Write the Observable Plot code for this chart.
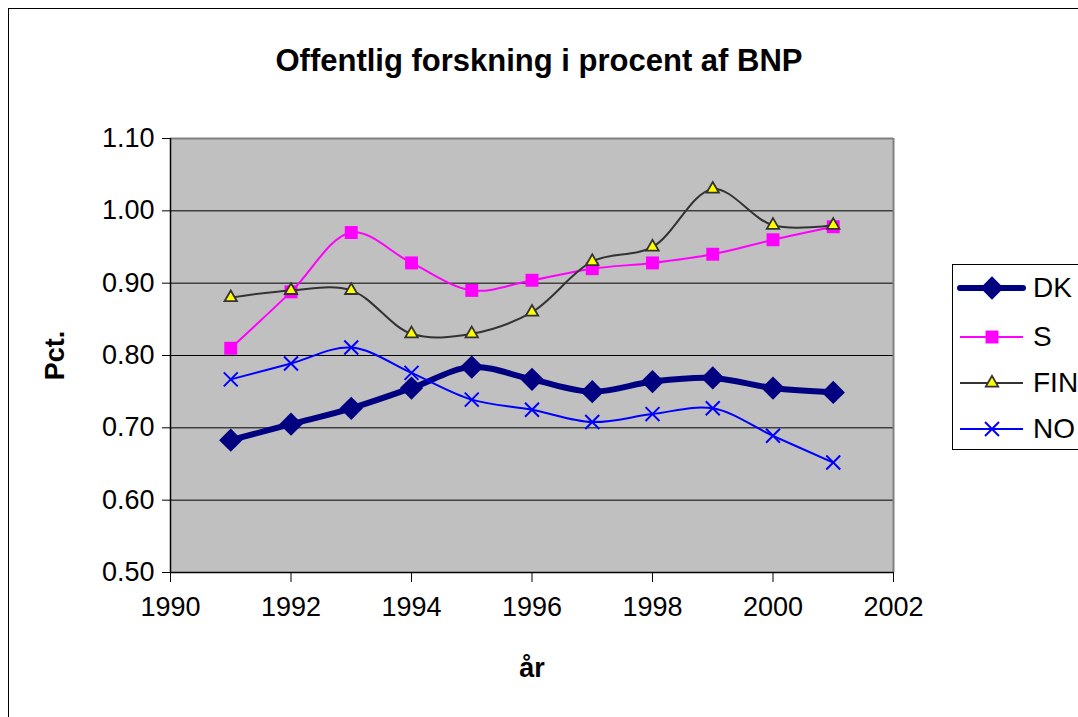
<!DOCTYPE html>
<html>
<head>
<meta charset="utf-8">
<script src="https://cdn.jsdelivr.net/npm/d3@7"></script>
<script src="https://cdn.jsdelivr.net/npm/@observablehq/plot@0.6"></script>
<style>
  html, body { margin: 0; padding: 0; background: #fff; overflow: hidden; }
  #wrap { position: relative; width: 1078px; height: 717px; overflow: hidden; font-family: "Liberation Sans", Arial, sans-serif; }
  #border { position: absolute; left: 8px; top: 8px; width: 1200px; height: 1000px; border: 1.5px solid #000; box-sizing: border-box; }
  #title { position: absolute; left: 0; width: 1078px; top: 43px; text-align: center; font-weight: bold; font-size: 31px; line-height: 36px; }
  #chart { position: absolute; left: 0; top: 0; }
  #legend { position: absolute; left: 952px; top: 264px; width: 160px; height: 186px; border: 1.5px solid #000; box-sizing: border-box; background: #fff; }
  .item { position: absolute; left: 0; height: 40px; display: flex; align-items: center; }
  .item span { font-size: 28px; margin-left: 6px; }
</style>
</head>
<body>
<div id="wrap">
  <div id="border"></div>
  <div id="chart"></div>
  <div id="title">Offentlig forskning i procent af BNP</div>
  <div id="legend"></div>
</div>
<script>
const years = [1991, 1992, 1993, 1994, 1995, 1996, 1997, 1998, 1999, 2000, 2001];
const dk  = [0.683, 0.705, 0.727, 0.755, 0.784, 0.767, 0.750, 0.764, 0.769, 0.755, 0.749];
const s   = [0.810, 0.888, 0.970, 0.928, 0.890, 0.904, 0.920, 0.928, 0.940, 0.960, 0.978];
const fin = [0.880, 0.890, 0.890, 0.830, 0.830, 0.860, 0.930, 0.950, 1.030, 0.980, 0.980];
const no  = [0.767, 0.789, 0.811, 0.776, 0.739, 0.725, 0.708, 0.719, 0.727, 0.689, 0.652];
const seriesNames = ["DK", "S", "FIN", "NO"];
const yTicks = [0.5, 0.6, 0.7, 0.8, 0.9, 1.0, 1.1];
const xTicks = [1990, 1992, 1994, 1996, 1998, 2000, 2002];

const seriesValues = {DK: dk, S: s, FIN: fin, NO: no};
const rows = n => years.map((yr, i) => ({year: yr, value: seriesValues[n][i]}));

const style = {
  DK:  {stroke: "#000080", strokeWidth: 6,  symbol: "diamond2", r: 10.5, fill: "#000080", mstroke: "none", msw: 0},
  S:   {stroke: "#ff00ff", strokeWidth: 2,  symbol: "square",   r: 7.3,  fill: "#ff00ff", mstroke: "none", msw: 0},
  FIN: {stroke: "#333333", strokeWidth: 2,  symbol: "triangle", r: 4.6,  fill: "#ffff00", mstroke: "#333333", msw: 1.8},
  NO:  {stroke: "#0000ff", strokeWidth: 2,  symbol: "times",    r: 6.4,  fill: "none",    mstroke: "#0000ff", msw: 2}
};

const lineMarks = seriesNames.flatMap(n => {
  const st = style[n];
  return [
    Plot.line(rows(n), {x: "year", y: "value", stroke: st.stroke, strokeWidth: st.strokeWidth, curve: "catmull-rom"}),
    Plot.dot(rows(n), {x: "year", y: "value", symbol: () => st.symbol, r: st.r, fill: st.fill,
      stroke: st.mstroke, strokeWidth: st.msw})
  ];
});

const chart = Plot.plot({
  width: 1078,
  height: 717,
  marginLeft: 170,
  marginRight: 185,
  marginTop: 138,
  marginBottom: 145,
  style: {fontFamily: "'Liberation Sans', Arial, sans-serif", fontSize: "27px", color: "#000", background: "transparent", overflow: "visible"},
  x: {domain: [1990, 2002]},
  y: {domain: [0.5, 1.1]},
  symbol: {type: "identity"},
  marks: [
    Plot.frame({fill: "#c0c0c0", stroke: "none"}),
    Plot.ruleY(yTicks.slice(1, -1), {stroke: "#000", strokeWidth: 1}),
    Plot.ruleY([1.1], {stroke: "#808080", strokeWidth: 2}),
    Plot.ruleX([2002], {stroke: "#808080", strokeWidth: 2}),
    Plot.axisY({ticks: yTicks, tickFormat: d3.format(".2f"), tickSize: 8, tickPadding: 8, fontSize: 27,
      label: "Pct.", labelAnchor: "center", labelOffset: 126, labelArrow: "none"}),
    Plot.axisX({ticks: xTicks, tickFormat: "d", tickSize: 10, tickPadding: 14, fontSize: 27,
      label: "år", labelAnchor: "center", labelOffset: 104, labelArrow: "none"}),
    Plot.ruleX([1990], {stroke: "#000", strokeWidth: 1.5}),
    Plot.ruleY([0.5], {stroke: "#000", strokeWidth: 1.5}),
    ...lineMarks
  ]
});
chart.querySelectorAll('[aria-label$="axis label"]').forEach(g => {
  g.setAttribute("font-weight", "bold");
  g.setAttribute("font-size", "27");
  g.querySelectorAll("text").forEach(t => {
    t.textContent = t.textContent.replace(/\s*[→←↑↓]\s*/g, "").trim();
  });
});
document.getElementById("chart").appendChild(chart);

// legend
const legend = document.getElementById("legend");
const legendY = [23, 72, 118, 164];
const symPaths = {DK: d3.symbolDiamond2, S: d3.symbolSquare, FIN: d3.symbolTriangle, NO: d3.symbolTimes};
seriesNames.forEach((n, i) => {
  const st = style[n];
  const item = document.createElement("div");
  item.className = "item";
  item.style.top = (legendY[i] - 20) + "px";
  const ns = "http://www.w3.org/2000/svg";
  const svg = document.createElementNS(ns, "svg");
  svg.setAttribute("width", 74); svg.setAttribute("height", 40);
  const line = document.createElementNS(ns, "line");
  line.setAttribute("x1", 7); line.setAttribute("x2", 70); line.setAttribute("y1", 20); line.setAttribute("y2", 20);
  line.setAttribute("stroke", st.stroke); line.setAttribute("stroke-width", st.strokeWidth);
  if (n === "DK") line.setAttribute("stroke-linecap", "round");
  svg.appendChild(line);
  const p = document.createElementNS(ns, "path");
  p.setAttribute("d", d3.symbol(symPaths[n], st.r * st.r * Math.PI)());
  p.setAttribute("transform", "translate(39,20)");
  p.setAttribute("fill", st.fill); p.setAttribute("stroke", st.mstroke); p.setAttribute("stroke-width", st.msw);
  svg.appendChild(p);
  item.appendChild(svg);
  const sp = document.createElement("span");
  sp.textContent = n;
  item.appendChild(sp);
  legend.appendChild(item);
});
</script>
</body>
</html>
